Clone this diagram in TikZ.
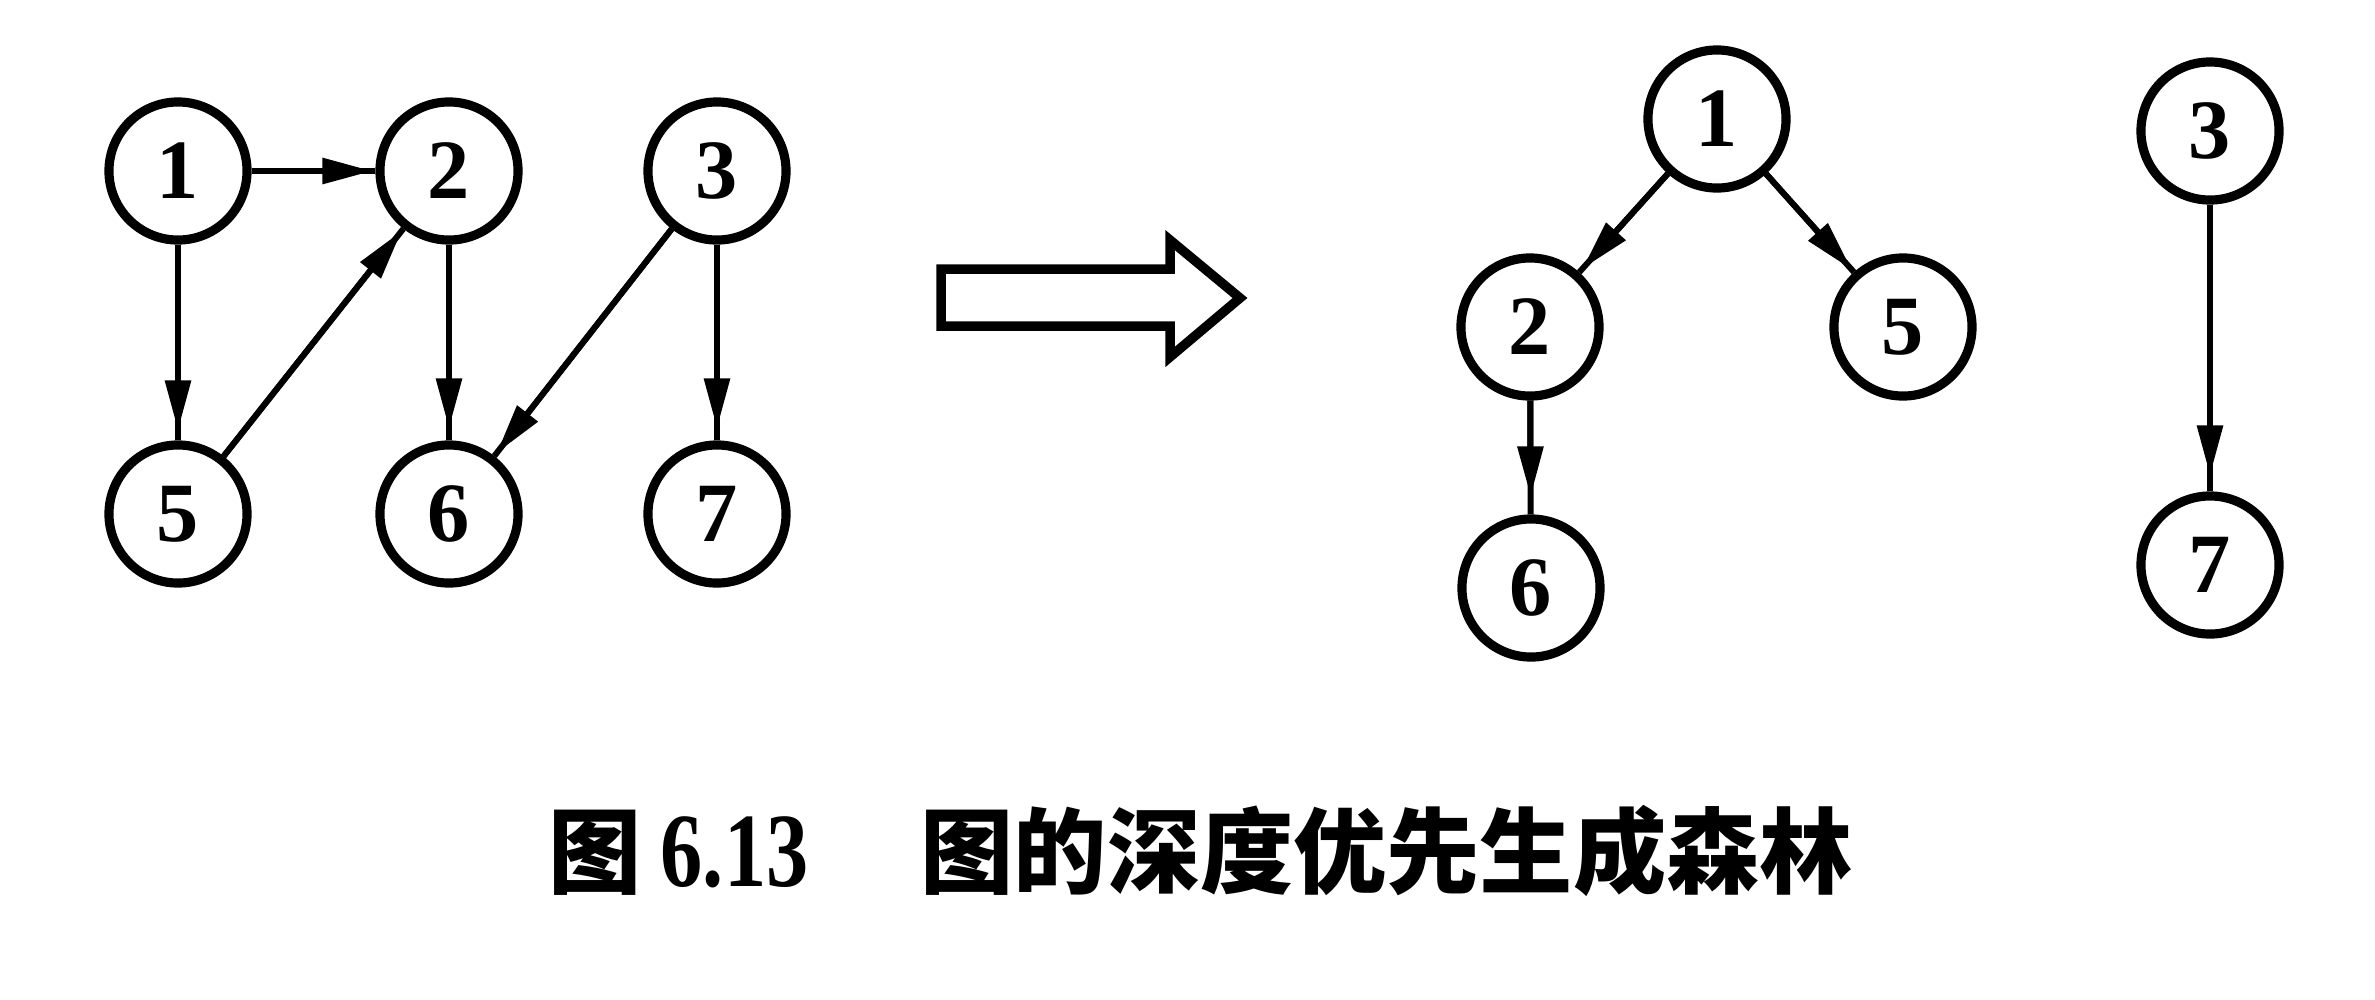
\documentclass[tikz,border=0pt]{standalone}
\usepackage{fontspec}
\setmainfont{Liberation Serif}
\newfontfamily\cjk{Noto Sans CJK SC}
\usepackage{graphicx}
\usetikzlibrary{arrows.meta}
\begin{document}
\begin{tikzpicture}[x=0.01cm,y=-0.01cm,
  vtx/.style={circle,draw,line width=2.6pt,minimum size=1.38cm,inner sep=0pt,
    font=\bfseries\fontsize{24}{24}\selectfont},
  edg/.style={line width=1.7pt,
    postaction={draw,line width=1.7pt,-{Triangle[length=0.5cm,width=0.25cm]},shorten >=#1}},
  edg/.default=0.05cm,
  bigarrow/.style={line width=2.7pt,line join=miter},
  captext/.style={anchor=base west,inner sep=0pt}]
\useasboundingbox (0,0) rectangle (2375,999);
% left graph
\node[vtx] (L1) at (178,171) {1};
\node[vtx] (L2) at (449,171) {2};
\node[vtx] (L3) at (717,171) {3};
\node[vtx] (L5) at (178,514) {5};
\node[vtx] (L6) at (449,514) {6};
\node[vtx] (L7) at (717,514) {7};
\draw[edg=0.03cm] (L1) -- (L2);
\draw[edg=0.1cm] (L1) -- (L5);
\draw[edg=0.03cm] (L5) -- (L2);
\draw[edg=0.12cm] (L2) -- (L6);
\draw[edg=0.04cm] (L3) -- (L6);
\draw[edg=0.12cm] (L3) -- (L7);
% big arrow
\draw[bigarrow] (941,269) -- (1170,269) -- (1170,240) -- (1240,298) -- (1170,357) -- (1170,326) -- (941,326) -- cycle;
% right forest
\node[vtx] (R1) at (1717,119) {1};
\node[vtx] (R2) at (1530,327) {2};
\node[vtx] (R5) at (1903,327) {5};
\node[vtx] (R6) at (1531,588) {6};
\node[vtx] (R3) at (2210,131) {3};
\node[vtx] (R7) at (2210,565) {7};
\draw[edg=0.05cm] (R1) -- (R2);
\draw[edg=0.04cm] (R1) -- (R5);
\draw[edg=0.18cm] (R2) -- (R6);
\draw[edg=0.16cm] (R3) -- (R7);
% caption
\node[captext,font=\cjk\bfseries\fontsize{26.5}{26.5}\selectfont] (fig) at (548,886) {图};
\node[captext,font=\bfseries\fontsize{30}{30}\selectfont] (num) at (660,886) {\scalebox{0.8}[1]{6.13}};
\node[captext,font=\cjk\bfseries\fontsize{26.5}{26.5}\selectfont] (title) at (920,886) {图的深度优先生成森林};
\end{tikzpicture}
\end{document}
